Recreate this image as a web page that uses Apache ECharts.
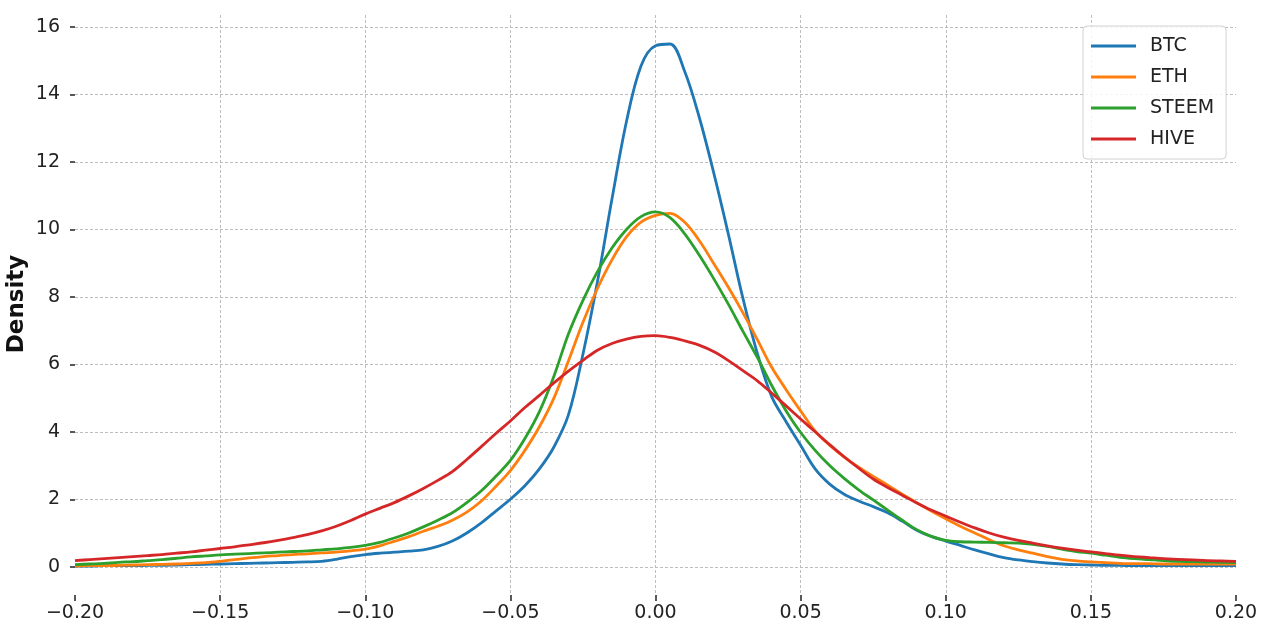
<!DOCTYPE html>
<html>
<head>
<meta charset="utf-8">
<script src="https://cdn.jsdelivr.net/npm/echarts@6/dist/echarts.min.js"></script>
<style>
html,body{margin:0;padding:0;background:#fff;}
#chart{width:1276px;height:639px;}
</style>
</head>
<body>
<div id="chart"></div>
<script>
// ---- data ----
var seriesNames = ['BTC', 'ETH', 'STEEM', 'HIVE'];
// evaluation points of the density curves
var xs = [
  -0.200, -0.195, -0.190, -0.185, -0.180, -0.175, -0.170, -0.165, -0.160, -0.155,
  -0.150, -0.145, -0.140, -0.135, -0.130, -0.125, -0.120, -0.115, -0.110, -0.105,
  -0.100, -0.095, -0.090, -0.085, -0.080, -0.075, -0.070, -0.065, -0.060, -0.055,
  -0.050, -0.045, -0.040, -0.035, -0.030, -0.025, -0.020, -0.015, -0.010, -0.005,
   0.000,
   0.005,  0.010,  0.015,  0.020,  0.025,  0.030,  0.035,  0.040,  0.045,  0.050,
   0.055,  0.060,  0.065,  0.070,  0.075,  0.080,  0.085,  0.090,  0.095,  0.100,
   0.105,  0.110,  0.115,  0.120,  0.125,  0.130,  0.135,  0.140,  0.145,  0.150,
   0.155,  0.160,  0.165,  0.170,  0.175,  0.180,  0.185,  0.190,  0.195,  0.200
];
var btc = [
  0.02, 0.02, 0.03, 0.03, 0.03, 0.04, 0.04, 0.05, 0.06, 0.07,
  0.08, 0.09, 0.10, 0.11, 0.12, 0.13, 0.14, 0.16, 0.22, 0.30,
  0.36, 0.40, 0.43, 0.46, 0.50, 0.60, 0.76, 1.00, 1.30, 1.65,
  2.00, 2.40, 2.90, 3.55, 4.50, 6.30, 8.45, 10.90, 13.20, 14.85,
  15.45,
  15.50, 14.70, 13.35, 11.70, 9.90, 8.00, 6.35, 5.05, 4.30, 3.60,
  2.90, 2.45, 2.15, 1.95, 1.78, 1.60, 1.35, 1.08, 0.90, 0.76,
  0.63, 0.50, 0.38, 0.27, 0.20, 0.15, 0.11, 0.08, 0.06, 0.05,
  0.04, 0.04, 0.03, 0.03, 0.03, 0.03, 0.03, 0.03, 0.03, 0.03
];
var eth = [
  0.02, 0.03, 0.03, 0.04, 0.05, 0.06, 0.07, 0.08, 0.10, 0.12,
  0.16, 0.21, 0.26, 0.30, 0.33, 0.36, 0.38, 0.41, 0.43, 0.47,
  0.52, 0.62, 0.75, 0.89, 1.05, 1.20, 1.38, 1.62, 1.95, 2.38,
  2.85, 3.45, 4.15, 5.00, 6.10, 7.25, 8.25, 9.10, 9.78, 10.22,
  10.42,
  10.48, 10.22, 9.68, 9.00, 8.30, 7.55, 6.75, 5.92, 5.25, 4.62,
  4.02, 3.60, 3.25, 2.95, 2.68, 2.42, 2.15, 1.90, 1.65, 1.42,
  1.20, 1.00, 0.80, 0.62, 0.50, 0.40, 0.30, 0.22, 0.17, 0.14,
  0.12, 0.10, 0.09, 0.09, 0.08, 0.08, 0.08, 0.08, 0.08, 0.08
];
var steem = [
  0.06, 0.08, 0.10, 0.13, 0.15, 0.18, 0.21, 0.25, 0.29, 0.32,
  0.35, 0.37, 0.39, 0.41, 0.43, 0.45, 0.47, 0.50, 0.53, 0.57,
  0.63, 0.72, 0.85, 1.00, 1.18, 1.38, 1.60, 1.90, 2.25, 2.68,
  3.15, 3.80, 4.60, 5.65, 6.90, 7.90, 8.75, 9.45, 10.00, 10.38,
  10.52,
  10.35, 9.88, 9.25, 8.55, 7.80, 7.00, 6.22, 5.38, 4.62, 3.98,
  3.45, 3.00, 2.62, 2.28, 1.98, 1.68, 1.38, 1.10, 0.90, 0.78,
  0.74, 0.73, 0.72, 0.71, 0.70, 0.66, 0.60, 0.52, 0.45, 0.40,
  0.34, 0.28, 0.24, 0.21, 0.18, 0.16, 0.15, 0.14, 0.13, 0.12
];
var hive = [
  0.18, 0.21, 0.24, 0.27, 0.30, 0.33, 0.36, 0.40, 0.44, 0.49,
  0.54, 0.59, 0.65, 0.71, 0.78, 0.86, 0.95, 1.06, 1.20, 1.37,
  1.56, 1.73, 1.90, 2.10, 2.32, 2.56, 2.82, 3.18, 3.56, 3.95,
  4.32, 4.72, 5.08, 5.45, 5.80, 6.12, 6.42, 6.62, 6.75, 6.83,
  6.85,
  6.80, 6.70, 6.57, 6.38, 6.12, 5.82, 5.52, 5.15, 4.77, 4.38,
  4.00, 3.62, 3.26, 2.92, 2.60, 2.35, 2.12, 1.89, 1.68, 1.50,
  1.32, 1.15, 1.00, 0.88, 0.78, 0.70, 0.62, 0.55, 0.49, 0.44,
  0.39, 0.34, 0.30, 0.27, 0.24, 0.22, 0.20, 0.18, 0.17, 0.16
];
var yTicks = [0, 2, 4, 6, 8, 10, 12, 14, 16];
var xTicks = [-0.20, -0.15, -0.10, -0.05, 0.00, 0.05, 0.10, 0.15, 0.20];

var colors = ['#1f77b4', '#ff7f0e', '#2ca02c', '#d62728'];
var values = [btc, eth, steem, hive];
var FONT = 'DejaVu Sans';

function pairs(ys) { return xs.map(function (x, i) { return [x, ys[i]]; }); }
function fmtX(v) {
  var r = Math.round(v * 100) / 100;
  return (r < 0 ? '\u2212' : '') + Math.abs(r).toFixed(2);
}

var chart = echarts.init(document.getElementById('chart'), null, {renderer: 'canvas'});
var gridStyle = {color: '#bdbdbd', width: 1, type: [3, 2]};

var option = {
  animation: false,
  backgroundColor: '#ffffff',
  grid: [
    // plotting area (data)
    {left: 75, right: 40, top: 15, bottom: 46, containLabel: false, outerBoundsMode: 'none'},
    // horizontal gridlines / y tick labels
    {left: 75, right: 40, top: 27, bottom: 72, containLabel: false, outerBoundsMode: 'none'},
    // thin strip under the plot that holds the x tick marks
    {left: 75, right: 40, top: 595, bottom: 38, containLabel: false, outerBoundsMode: 'none'}
  ],
  xAxis: [
    {
      type: 'value', gridIndex: 0,
      min: xTicks[0], max: xTicks[xTicks.length - 1], interval: 0.05,
      axisLine: {show: false, onZero: false},
      axisTick: {show: false},
      axisLabel: {fontFamily: FONT, fontSize: 19, color: '#222', margin: 11, formatter: fmtX},
      splitLine: {show: true, showMinLine: false, showMaxLine: false, lineStyle: gridStyle}
    },
    {
      type: 'value', gridIndex: 1,
      min: xTicks[0], max: xTicks[xTicks.length - 1],
      show: false
    },
    {
      type: 'value', gridIndex: 2,
      min: xTicks[0], max: xTicks[xTicks.length - 1], interval: 0.05,
      axisLine: {show: false, onZero: false},
      axisTick: {show: false},
      axisLabel: {show: false},
      splitLine: {show: true, showMinLine: true, showMaxLine: true, lineStyle: {color: '#222222', width: 1.5, type: 'solid'}}
    }
  ],
  yAxis: [
    {
      type: 'value', gridIndex: 0,
      min: -0.78, max: 16.36,
      axisLine: {show: false, onZero: false}, axisTick: {show: false}, axisLabel: {show: false},
      splitLine: {show: false},
      name: 'Density', nameLocation: 'middle', nameGap: 46,
      nameTextStyle: {fontFamily: FONT, fontSize: 23, fontWeight: 'bold', color: '#111'}
    },
    {
      type: 'value', gridIndex: 1,
      min: yTicks[0], max: yTicks[yTicks.length - 1], interval: 2,
      axisLine: {show: false, onZero: false},
      axisTick: {show: true, length: 5, lineStyle: {color: '#222', width: 1.5}},
      axisLabel: {fontFamily: FONT, fontSize: 19, color: '#222', margin: 15},
      splitLine: {show: true, lineStyle: gridStyle}
    },
    {
      type: 'value', gridIndex: 2, min: 0, max: 1,
      axisLine: {show: false}, axisTick: {show: false}, axisLabel: {show: false},
      splitLine: {show: false}
    }
  ],
  legend: {
    orient: 'vertical',
    left: 1083, top: 26,
    padding: [9, 12, 9, 8],
    itemGap: 9,
    itemWidth: 45, itemHeight: 3,
    icon: 'rect',
    borderColor: '#d0d0d0', borderWidth: 1, borderRadius: 4,
    backgroundColor: 'rgba(255,255,255,0.85)',
    textStyle: {fontFamily: FONT, fontSize: 19, color: '#222', lineHeight: 22, padding: [0, 0, 0, 9]},
    data: seriesNames
  },
  series: seriesNames.map(function (name, i) {
    return {
      name: name, type: 'line',
      xAxisIndex: 0, yAxisIndex: 0,
      data: pairs(values[i]),
      showSymbol: false, symbol: 'none',
      smooth: 0.35,
      color: colors[i],
      lineStyle: {color: colors[i], width: 2.8},
      z: 3 + i
    };
  })
};
chart.setOption(option);
</script>
</body>
</html>
